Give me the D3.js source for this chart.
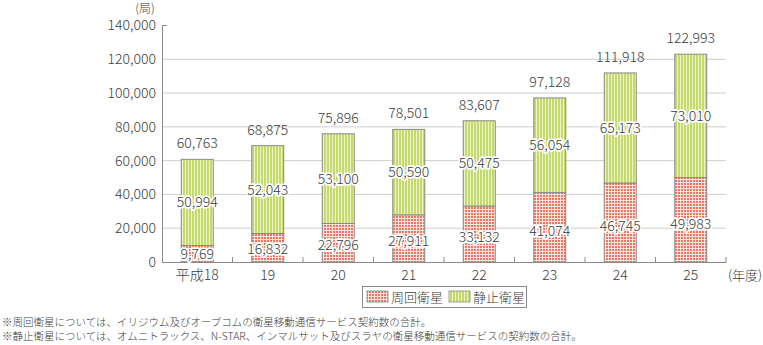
<!DOCTYPE html>
<html><head><meta charset="utf-8">
<script src="https://cdn.jsdelivr.net/npm/d3@7"></script>
<style>
html,body{margin:0;padding:0;background:#fff;}
svg{display:block;font-family:"Noto Sans CJK JP","Noto Sans",sans-serif;font-weight:300;}
</style></head>
<body>
<svg id="c" width="763" height="345"></svg>
<script>
const categories = ["平成18","19","20","21","22","23","24","25"];
const lowOrbit = [9769,16832,22796,27911,33132,41074,46745,49983];
const geoOrbit = [50994,52043,53100,50590,50475,56054,65173,73010];
const totals = [60763,68875,75896,78501,83607,97128,111918,122993];
const yTicks = [0,20000,40000,60000,80000,100000,120000,140000];
const seriesNames = ["周回衛星","静止衛星"];
const notes = [
  "※周回衛星については、イリジウム及びオーブコムの衛星移動通信サービス契約数の合計。",
  "※静止衛星については、オムニトラックス、N-STAR、インマルサット及びスラヤの衛星移動通信サービスの契約数の合計。"
];

const svg = d3.select("#c");
const fmt = d3.format(",");
const textColor = "#3c3c3c";

// patterns
const defs = svg.append("defs");
const pr = defs.append("pattern").attr("id","pRed").attr("patternUnits","userSpaceOnUse")
  .attr("width",3).attr("height",3);
pr.append("rect").attr("width",3).attr("height",3).attr("fill","#e57866");
pr.append("rect").attr("x",2).attr("width",1).attr("height",3).attr("fill","#fbe3dc");
pr.append("rect").attr("y",2).attr("width",3).attr("height",1).attr("fill","#fbe3dc");
const pg = defs.append("pattern").attr("id","pGreen").attr("patternUnits","userSpaceOnUse")
  .attr("width",3).attr("height",3);
pg.append("rect").attr("width",3).attr("height",3).attr("fill","#c4da6e");
pg.append("rect").attr("x",2).attr("width",1).attr("height",3).attr("fill","#eef4c8");

const x = d3.scaleBand().domain(categories).range([162,726]).paddingInner(0.546).paddingOuter(0.273);
const y = d3.scaleLinear().domain([0,140000]).range([262,25.5]);

// gridlines
svg.append("g").selectAll("line").data(yTicks.filter(t=>t>0 && t<140000)).join("line")
  .attr("x1",162).attr("x2",726).attr("y1",d=>y(d)).attr("y2",d=>y(d))
  .attr("stroke","#cfcfcf").attr("stroke-width",1);

// y axis
const yAxis = svg.append("g").attr("transform","translate(162,0)")
  .call(d3.axisLeft(y).tickValues(yTicks).tickFormat(fmt).tickSize(0).tickPadding(6));
yAxis.select(".domain").attr("stroke","#8a8a8a");
yAxis.selectAll("text").attr("font-size",14).attr("fill",textColor)
  .attr("font-family","'Noto Sans CJK JP',sans-serif").attr("font-weight",300);
svg.append("line").attr("x1",162).attr("x2",167).attr("y1",y(140000)).attr("y2",y(140000))
  .attr("stroke","#8a8a8a");

// bars
const bw = x.bandwidth();
const g = svg.append("g");
categories.forEach((c,i)=>{
  const x0 = x(c);
  g.append("rect").attr("x",x0).attr("y",y(lowOrbit[i])).attr("width",bw)
    .attr("height",y(0)-y(lowOrbit[i])).attr("fill","url(#pRed)")
    .attr("stroke","#8a8a8a").attr("stroke-width",1);
  g.append("rect").attr("x",x0).attr("y",y(lowOrbit[i]+geoOrbit[i])).attr("width",bw)
    .attr("height",y(lowOrbit[i])-y(lowOrbit[i]+geoOrbit[i])).attr("fill","url(#pGreen)")
    .attr("stroke","#8a8a8a").attr("stroke-width",1);
});

// x axis baseline & ticks
svg.append("line").attr("x1",162).attr("x2",726).attr("y1",262.5).attr("y2",262.5).attr("stroke","#8a8a8a");
const step = x.step();
svg.append("g").selectAll("line").data(categories).join("line")
  .attr("x1",d=>x(d)+bw/2+step/2).attr("x2",d=>x(d)+bw/2+step/2)
  .attr("y1",257).attr("y2",262.5).attr("stroke","#8a8a8a");
svg.append("g").selectAll("text").data(categories).join("text")
  .attr("x",d=>x(d)+bw/2).attr("y",280).attr("text-anchor","middle")
  .attr("font-size",14).attr("fill",textColor).text(d=>d);

// labels
const lab = svg.append("g").attr("font-size",14).attr("text-anchor","middle");
categories.forEach((c,i)=>{
  const cx = x(c)+bw/2;
  lab.append("text").attr("x",cx).attr("y",y(lowOrbit[i]*0.45)).attr("dy","0.35em")
    .attr("fill",textColor).attr("stroke","#fff").attr("stroke-width",3.5).attr("paint-order","stroke")
    .attr("stroke-linejoin","round").text(fmt(lowOrbit[i]));
  lab.append("text").attr("x",cx).attr("y",y(lowOrbit[i]+geoOrbit[i]/2)).attr("dy","0.35em")
    .attr("fill",textColor).attr("stroke","#fff").attr("stroke-width",3.5).attr("paint-order","stroke")
    .attr("stroke-linejoin","round").text(fmt(geoOrbit[i]));
  lab.append("text").attr("x",cx).attr("y",y(totals[i])-11)
    .attr("fill",textColor).text(fmt(totals[i]));
});

// units
svg.append("text").attr("x",145).attr("y",8.5).attr("dy","0.35em").attr("text-anchor","middle").attr("font-size",12)
  .attr("fill",textColor).text("(局)");
svg.append("text").attr("x",745).attr("y",280).attr("text-anchor","middle").attr("font-size",13)
  .attr("fill",textColor).text("(年度)");

// legend
const lg = svg.append("g");
lg.append("rect").attr("x",362.5).attr("y",286.5).attr("width",164).attr("height",21)
  .attr("fill","#fff").attr("stroke","#8a8a8a");
const fills = ["url(#pRed)","url(#pGreen)"];
const lx = [367,449];
seriesNames.forEach((n,i)=>{
  lg.append("rect").attr("x",lx[i]).attr("y",291).attr("width",21).attr("height",11)
    .attr("fill",fills[i]).attr("stroke","#8a8a8a").attr("stroke-width",0.8);
  lg.append("text").attr("x",lx[i]+24).attr("y",297).attr("dy","0.35em").attr("font-size",13)
    .attr("fill",textColor).text(n);
});

// notes
svg.append("g").selectAll("text").data(notes).join("text")
  .attr("x",2).attr("y",(d,i)=>326+i*14).attr("font-size",10.5).attr("fill",textColor).text(d=>d);
</script>
</body></html>
